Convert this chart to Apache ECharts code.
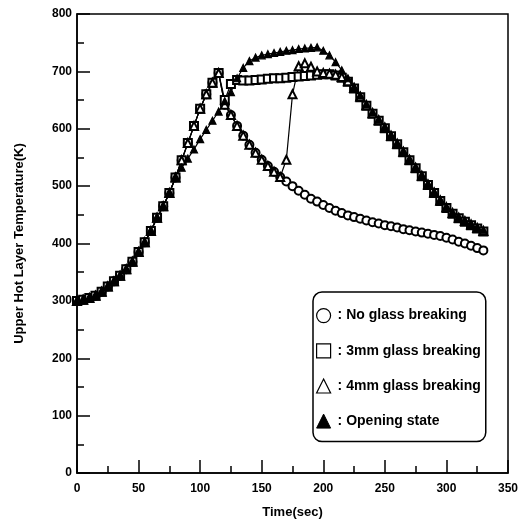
<!DOCTYPE html>
<html>
<head>
<meta charset="utf-8">
<title>Upper Hot Layer Temperature</title>
<script src="https://cdn.jsdelivr.net/npm/echarts@6/dist/echarts.min.js"></script>
<style>
  html, body { margin: 0; padding: 0; background: #fff; }
  #chart { width: 532px; height: 527px; }
</style>
</head>
<body>
<div id="chart"></div>
<script>
// time (sec)
const times = [
  0, 5, 10, 15, 20, 25, 30, 35, 40, 45, 50, 55, 60, 65, 70, 75, 80, 85, 90, 95,
  100, 105, 110, 115, 120, 125, 130, 135, 140, 145, 150, 155, 160, 165, 170, 175,
  180, 185, 190, 195, 200, 205, 210, 215, 220, 225, 230, 235, 240, 245, 250, 255,
  260, 265, 270, 275, 280, 285, 290, 295, 300, 305, 310, 315, 320, 325, 330
]

// upper hot layer temperature (K)
const noGlass = [
  300, 302, 305, 309, 316, 325, 334, 344, 355, 368, 385, 402, 422, 445, 465, 488, 515, 545, 575, 605,
  635, 660, 680, 697, 642, 624, 605, 588, 572, 558, 546, 535, 525, 516, 508, 500,
  492, 485, 478, 473, 467, 462, 457, 453, 449, 446, 443, 440, 437, 435, 432, 430,
  428, 425, 423, 421, 419, 417, 415, 413, 410, 407, 403, 400, 396, 392, 388
]
const glass3mm = [
  300, 302, 305, 309, 316, 325, 334, 344, 355, 368, 385, 402, 422, 445, 465, 488, 515, 545, 575, 605,
  635, 660, 680, 697, 650, 678, 685, 684, 684, 685, 686, 687, 688, 688, 689, 690,
  691, 692, 693, 694, 695, 695, 693, 689, 682, 670, 655, 640, 626, 614, 601, 587,
  573, 559, 545, 531, 517, 502, 488, 474, 462, 452, 444, 438, 432, 426, 421
]
const glass4mm = [
  300, 302, 305, 309, 316, 325, 334, 344, 355, 368, 385, 402, 422, 445, 465, 488, 515, 545, 575, 605,
  635, 660, 680, 697, 642, 624, 605, 588, 572, 558, 546, 535, 525, 516, 546, 660,
  709, 714, 708, 700, 697, 696, 694, 690, 683, 671, 656, 641, 627, 615, 602, 588,
  574, 560, 546, 532, 518, 503, 489, 475, 463, 453, 445, 439, 433, 427, 422
]
const opening = [
  300, 302, 305, 309, 316, 325, 334, 344, 355, 368, 385, 402, 422, 445, 465, 488, 515, 532, 548, 564,
  582, 598, 614, 630, 648, 664, 688, 706, 718, 724, 728, 730, 732, 734, 736, 737,
  739, 740, 741, 742, 736, 728, 716, 702, 688, 673, 658, 643, 629, 616, 603, 589,
  575, 561, 547, 533, 519, 504, 490, 476, 463, 453, 445, 439, 433, 427, 423
]

const names = [': No glass breaking', ': 3mm glass breaking', ': 4mm glass breaking', ': Opening state']

const font = 'Liberation Sans, Arial, sans-serif'

function pairs(vals) {
  return times.map((t, i) => [t, vals[i]])
}

function makeSeries(name, vals, symbol, size) {
  return {
    name: name,
    type: 'line',
    data: pairs(vals),
    symbol: symbol,
    symbolSize: size,
    showAllSymbol: true,
    lineStyle: { color: '#000', width: 1.2 },
    itemStyle: { color: '#000', borderColor: '#000', borderWidth: 1.2 },
    animation: false
  }
}

const chart = echarts.init(document.getElementById('chart'))
chart.setOption({
  backgroundColor: '#fff',
  grid: {
    left: 77,
    right: 24,
    top: 14,
    bottom: 54,
    show: true,
    borderColor: '#000',
    borderWidth: 1.5
  },
  legend: {
    orient: 'vertical',
    left: 313,
    top: 292,
    padding: [16, 5, 13, 3],
    itemGap: 20,
    itemWidth: 14,
    itemHeight: 14,
    borderColor: '#000',
    borderWidth: 1.5,
    borderRadius: 9,
    textStyle: { color: '#000', fontFamily: font, fontWeight: 'bold', fontSize: 14, padding: [0, 0, 0, 2] },
    data: [
      { name: names[0], icon: 'circle', itemStyle: { color: '#fff', borderColor: '#000', borderWidth: 1.2 } },
      { name: names[1], icon: 'rect', itemStyle: { color: '#fff', borderColor: '#000', borderWidth: 1.2 } },
      { name: names[2], icon: 'triangle', itemStyle: { color: '#fff', borderColor: '#000', borderWidth: 1.2 } },
      { name: names[3], icon: 'triangle', itemStyle: { color: '#000', borderColor: '#000', borderWidth: 1 } }
    ]
  },
  xAxis: {
    type: 'value',
    min: 0,
    max: 350,
    interval: 50,
    name: 'Time(sec)',
    nameLocation: 'middle',
    nameGap: 33,
    nameTextStyle: { color: '#000', fontFamily: font, fontWeight: 'bold', fontSize: 13 },
    axisLine: { lineStyle: { color: '#000', width: 1.5 } },
    axisTick: { inside: true, length: 13, lineStyle: { color: '#000', width: 1.5 } },
    minorTick: { show: true, splitNumber: 2, length: 7, lineStyle: { color: '#000', width: 1.5 } },
    axisLabel: { color: '#000', fontFamily: font, fontWeight: 'bold', fontSize: 12, margin: 10 },
    splitLine: { show: false }
  },
  yAxis: {
    type: 'value',
    min: 0,
    max: 800,
    interval: 100,
    name: 'Upper Hot Layer Temperature(K)',
    nameLocation: 'middle',
    nameGap: 51,
    nameTextStyle: { color: '#000', fontFamily: font, fontWeight: 'bold', fontSize: 13 },
    axisLine: { lineStyle: { color: '#000', width: 1.5 } },
    axisTick: { inside: true, length: 13, lineStyle: { color: '#000', width: 1.5 } },
    minorTick: { show: true, splitNumber: 2, length: 7, lineStyle: { color: '#000', width: 1.5 } },
    axisLabel: { color: '#000', fontFamily: font, fontWeight: 'bold', fontSize: 12, margin: 5 },
    splitLine: { show: false }
  },
  series: [
    makeSeries(names[0], noGlass, 'emptyCircle', 8),
    makeSeries(names[1], glass3mm, 'emptyRect', 8),
    makeSeries(names[2], glass4mm, 'emptyTriangle', 8),
    makeSeries(names[3], opening, 'triangle', 7)
  ]
})
</script>
</body>
</html>
